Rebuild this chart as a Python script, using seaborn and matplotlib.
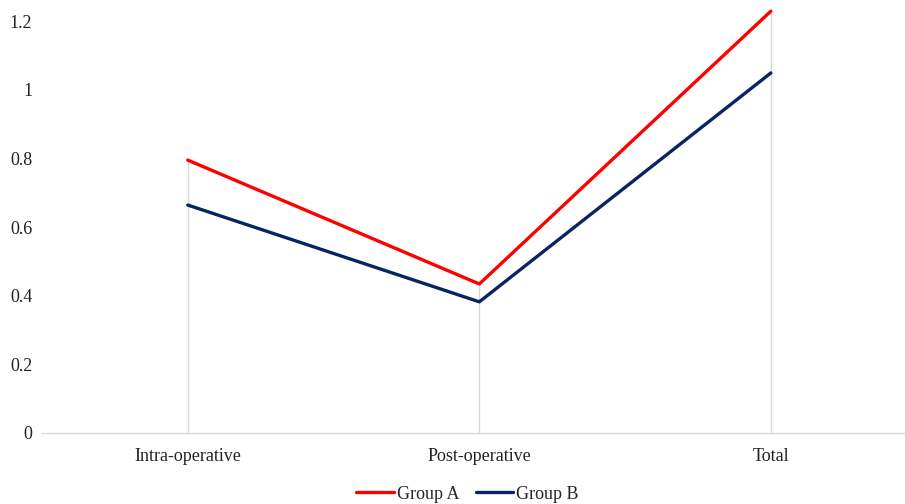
import pandas as pd
import matplotlib
matplotlib.use('Agg')
import matplotlib.pyplot as plt
import seaborn as sns

# Data
categories = ['Intra-operative', 'Post-operative', 'Total']
group_a = [0.795, 0.434, 1.229]
group_b = [0.664, 0.382, 1.049]

df = pd.DataFrame({
    'Phase': categories * 2,
    'Value': group_a + group_b,
    'Group': ['Group A'] * 3 + ['Group B'] * 3,
})

sns.set_style('white')
plt.rcParams['font.family'] = ['Liberation Serif', 'DejaVu Serif']

fig = plt.figure(figsize=(9.05, 5.04), dpi=100)
ax = fig.add_axes([0.0464, 0.141, 0.9536, 0.843])

# drop lines from each category's highest value down to zero
for i in range(len(categories)):
    ax.vlines(i, 0, max(group_a[i], group_b[i]), color='#d9d9d9', linewidth=1, zorder=0)

sns.lineplot(data=df, x='Phase', y='Value', hue='Group', sort=False,
             palette={'Group A': '#ff0000', 'Group B': '#0a2463'},
             linewidth=2.4, ax=ax)

ax.set_xlim(-0.5, 2.46)
ax.set_ylim(0, 1.238)
ax.set_yticks([0, 0.2, 0.4, 0.6, 0.8, 1.0, 1.2])
ax.set_yticklabels(['0', '0.2', '0.4', '0.6', '0.8', '1', '1.2'])
ax.set_xlabel('')
ax.set_ylabel('')

for side in ['top', 'right', 'left']:
    ax.spines[side].set_visible(False)
ax.spines['bottom'].set_color('#d9d9d9')
ax.spines['bottom'].set_linewidth(1)
ax.tick_params(axis='both', length=0, labelsize=13, colors='#222222')
ax.tick_params(axis='y', pad=7)
ax.tick_params(axis='x', pad=11)

ax.legend(loc='upper center', bbox_to_anchor=(0.493, -0.086), ncol=2,
          frameon=False, fontsize=13, handlelength=2.1, handletextpad=0.15,
          columnspacing=0.9)

plt.savefig('out.png', dpi=100)
